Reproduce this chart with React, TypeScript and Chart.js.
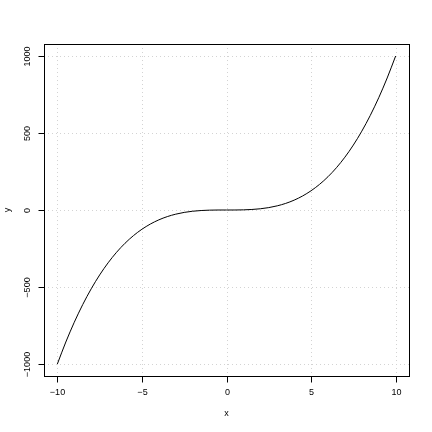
import React, { useEffect, useRef } from "react";
import { Chart, registerables } from "chart.js";

Chart.register(...registerables);

const xValues = [-10, -9.5, -9, -8.5, -8, -7.5, -7, -6.5, -6, -5.5, -5, -4.5, -4, -3.5, -3, -2.5, -2, -1.5, -1, -0.5, 0, 0.5, 1, 1.5, 2, 2.5, 3, 3.5, 4, 4.5, 5, 5.5, 6, 6.5, 7, 7.5, 8, 8.5, 9, 9.5, 10];
const yValues = [-1000, -857.4, -729, -614.1, -512, -421.9, -343, -274.6, -216, -166.4, -125, -91.1, -64, -42.9, -27, -15.6, -8, -3.4, -1, -0.1, 0, 0.1, 1, 3.4, 8, 15.6, 27, 42.9, 64, 91.1, 125, 166.4, 216, 274.6, 343, 421.9, 512, 614.1, 729, 857.4, 1000];
const xTicks = [-10, -5, 0, 5, 10];
const yTicks = [-1000, -500, 0, 500, 1000];
const xTitle = "x";
const yTitle = "y";

const fmt = (v: number) => (v < 0 ? "\u2212" + Math.abs(v) : String(v));
const FONT = "9px 'Liberation Sans', Arial, sans-serif";

const rPlot = {
  id: "rPlot",
  beforeDatasetsDraw(chart: any) {
    const { ctx, chartArea: a, scales } = chart;
    const xs = scales.x, ys = scales.y;
    ctx.save();
    ctx.strokeStyle = "#d3d3d3";
    ctx.lineWidth = 1;
    ctx.setLineDash([1, 3]);
    for (const t of xTicks) {
      const px = Math.round(xs.getPixelForValue(t)) + 0.5;
      ctx.beginPath(); ctx.moveTo(px, a.top); ctx.lineTo(px, a.bottom); ctx.stroke();
    }
    for (const t of yTicks) {
      const py = Math.round(ys.getPixelForValue(t)) + 0.5;
      ctx.beginPath(); ctx.moveTo(a.left, py); ctx.lineTo(a.right, py); ctx.stroke();
    }
    ctx.restore();
  },
  afterDraw(chart: any) {
    const { ctx, chartArea: a, scales } = chart;
    const xs = scales.x, ys = scales.y;
    ctx.save();
    ctx.strokeStyle = "#000";
    ctx.lineWidth = 1;
    ctx.setLineDash([]);
    ctx.strokeRect(Math.round(a.left) + 0.5, Math.round(a.top) + 0.5, Math.round(a.right - a.left), Math.round(a.bottom - a.top));
    ctx.fillStyle = "#000";
    ctx.font = FONT;
    // x axis
    const bx = Math.round(a.bottom) + 0.5;
    const x0 = Math.round(xs.getPixelForValue(xTicks[0])) + 0.5;
    const x1 = Math.round(xs.getPixelForValue(xTicks[xTicks.length - 1])) + 0.5;
    ctx.beginPath(); ctx.moveTo(x0, bx); ctx.lineTo(x1, bx); ctx.stroke();
    ctx.textAlign = "center";
    ctx.textBaseline = "middle";
    for (const t of xTicks) {
      const px = Math.round(xs.getPixelForValue(t)) + 0.5;
      ctx.beginPath(); ctx.moveTo(px, bx); ctx.lineTo(px, bx + 6); ctx.stroke();
      ctx.fillText(fmt(t), px, a.bottom + 17);
    }
    ctx.fillText(xTitle, (a.left + a.right) / 2, a.bottom + 38);
    // y axis
    const lx = Math.round(a.left) + 0.5;
    const y0 = Math.round(ys.getPixelForValue(yTicks[0])) + 0.5;
    const y1 = Math.round(ys.getPixelForValue(yTicks[yTicks.length - 1])) + 0.5;
    ctx.beginPath(); ctx.moveTo(lx, y0); ctx.lineTo(lx, y1); ctx.stroke();
    for (const t of yTicks) {
      const py = Math.round(ys.getPixelForValue(t)) + 0.5;
      ctx.beginPath(); ctx.moveTo(lx, py); ctx.lineTo(lx - 6, py); ctx.stroke();
      ctx.save();
      ctx.translate(a.left - 16, py);
      ctx.rotate(-Math.PI / 2);
      ctx.fillText(fmt(t), 0, 0);
      ctx.restore();
    }
    ctx.save();
    ctx.translate(a.left - 36, (a.top + a.bottom) / 2);
    ctx.rotate(-Math.PI / 2);
    ctx.fillText(yTitle, 0, 0);
    ctx.restore();
    ctx.restore();
  },
};

export default function App() {
  const ref = useRef<HTMLCanvasElement>(null);
  useEffect(() => {
    if (!ref.current) return;
    const chart = new Chart(ref.current, {
      type: "scatter",
      data: {
        datasets: [
          {
            data: xValues.map((x, i) => ({ x, y: yValues[i] })),
            showLine: true,
            borderColor: "#000",
            borderWidth: 1,
            pointRadius: 0,
            cubicInterpolationMode: "monotone",
          } as any,
        ],
      },
      options: {
        responsive: false,
        animation: false,
        layout: { padding: { left: 44, top: 44, right: 23, bottom: 56 } },
        plugins: { legend: { display: false }, tooltip: { enabled: false } },
        scales: {
          x: { type: "linear", display: false, min: -10.79, max: 10.79 },
          y: { type: "linear", display: false, min: -1078, max: 1078 },
        },
      },
      plugins: [rPlot],
    });
    return () => chart.destroy();
  }, []);
  return (
    <div style={{ position: "fixed", left: 0, top: 0, width: 432, height: 432, background: "#fff" }}>
      <canvas ref={ref} width={432} height={432} />
    </div>
  );
}
